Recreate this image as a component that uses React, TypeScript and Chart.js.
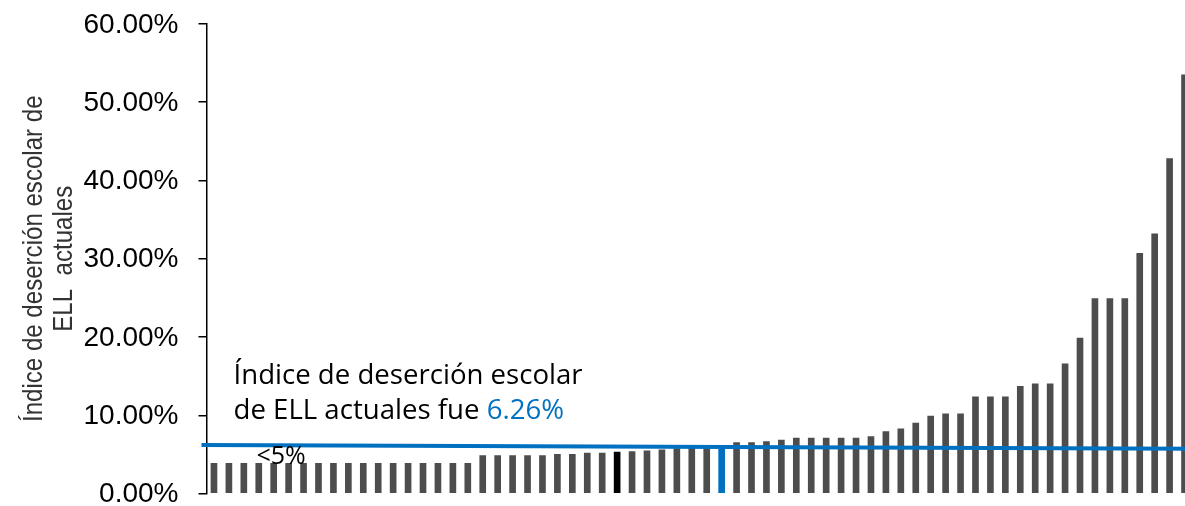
import React, { useEffect, useRef } from "react";
import { Chart, registerables } from "chart.js";

Chart.register(...registerables);

// Dropout rate (%) of current ELL per school, sorted ascending
const dropoutRates: number[] = [
  3.85, 3.85, 3.85, 3.85, 3.85, 3.85, 3.85, 3.85, 3.85, 3.85, 3.85, 3.85, 3.85, 3.85, 3.85, 3.85, 3.85, 3.85,
  4.84, 4.84, 4.84, 4.84, 4.84,
  5.02, 5.02, 5.15, 5.15, 5.28, 5.35, 5.44, 5.57, 5.74, 5.78, 5.78, 6.1,
  6.51, 6.51, 6.62, 6.82, 7.07, 7.07, 7.07, 7.07, 7.09, 7.28, 7.92, 8.26, 8.99, 9.88,
  10.18, 10.18, 12.36, 12.36, 12.36, 13.68, 14.02, 14.02, 16.58, 19.87,
  24.9, 24.9, 24.9, 30.7, 33.2, 42.8, 53.5,
];
const schoolLabels: string[] = dropoutRates.map((_, i) => `Escuela ${i + 1}`);
const highlightBlackIndex = 27;
const highlightBlueIndex = 34;

const yTickValues: number[] = [0, 10, 20, 30, 40, 50, 60];
const yAxisTitle: string[] = ["Índice de deserción escolar de", "ELL  actuales"];
const averageLine = { start: 6.2, end: 5.72 };
const annotationLine1 = "Índice de deserción escolar";
const annotationLine2 = "de ELL actuales fue ";
const annotationValue = "6.26%";
const smallLabel = "<5%";

const GREY = "#4d4d4d";
const BLUE = "#0070C0";

const overlayPlugin = {
  id: "overlay",
  afterDatasetsDraw(chart: any) {
    const { ctx, chartArea, scales } = chart;
    const y = scales.y;
    const x = scales.x;
    ctx.save();
    // average line
    ctx.strokeStyle = BLUE;
    ctx.lineWidth = 4;
    ctx.beginPath();
    ctx.moveTo(chartArea.left - 5, y.getPixelForValue(averageLine.start));
    ctx.lineTo(chartArea.right, y.getPixelForValue(averageLine.end));
    ctx.stroke();

    // annotation text
    ctx.font = "27.6px 'Open Sans', sans-serif";
    ctx.textBaseline = "alphabetic";
    ctx.textAlign = "left";
    ctx.fillStyle = "#000";
    const tx = chartArea.left + 27;
    ctx.fillText(annotationLine1, tx, y.getPixelForValue(14));
    const l2y = y.getPixelForValue(9.55);
    ctx.fillText(annotationLine2, tx, l2y);
    const w = ctx.measureText(annotationLine2).width;
    ctx.fillStyle = BLUE;
    ctx.fillText(annotationValue, tx + w, l2y);

    // <5% label
    ctx.font = "25px 'Open Sans', sans-serif";
    ctx.fillStyle = "#000";
    ctx.textAlign = "center";
    const cx = (x.getPixelForValue(4) + x.getPixelForValue(5)) / 2;
    ctx.fillText(smallLabel, cx, y.getPixelForValue(3.75));

    // y-axis title (condensed, two lines, rotated)
    const cy = (chartArea.top + chartArea.bottom) / 2;
    ctx.font = "28px 'Liberation Sans', Arial, sans-serif";
    ctx.fillStyle = "#333333";
    ctx.textAlign = "center";
    ctx.textBaseline = "middle";
    yAxisTitle.forEach((line, i) => {
      ctx.save();
      ctx.translate(34 + i * 30, cy);
      ctx.rotate(-Math.PI / 2);
      ctx.scale(0.86, 1);
      ctx.fillText(line, 0, 0);
      ctx.restore();
    });
    ctx.restore();
  },
};

export default function App() {
  const ref = useRef<HTMLCanvasElement | null>(null);

  useEffect(() => {
    document.body.style.margin = "0";
    document.body.style.overflow = "hidden";
    document.documentElement.style.overflow = "hidden";
    const canvas = ref.current;
    if (!canvas) return;
    const chart = new Chart(canvas, {
      type: "bar",
      data: {
        labels: schoolLabels,
        datasets: [
          {
            data: dropoutRates,
            backgroundColor: dropoutRates.map((_, i) =>
              i === highlightBlackIndex ? "#000000" : i === highlightBlueIndex ? BLUE : GREY
            ),
            barThickness: 6,
            borderWidth: 0,
          },
        ],
      },
      options: {
        responsive: false,
        animation: false,
        layout: { padding: { left: 0, right: 8, top: 24, bottom: 12.5 } },
        plugins: { legend: { display: false }, tooltip: { enabled: false } },
        scales: {
          x: { display: false, offset: true },
          y: {
            min: 0,
            max: 60,
            afterBuildTicks: (scale: any) => {
              scale.ticks = yTickValues.map((v) => ({ value: v }));
            },
            afterFit: (scale: any) => {
              scale.width = 206.5;
              scale.paddingTop = 0;
              scale.paddingBottom = 0;
            },
            ticks: {
              color: "#000",
              font: { family: "'Liberation Sans', Arial, sans-serif", size: 28, lineHeight: 0.9 },
              padding: 20,
              labelOffset: 1,
              callback: (v: any) => Number(v).toFixed(2) + "%",
            },
            grid: {
              display: true,
              drawOnChartArea: false,
              drawTicks: true,
              tickLength: 8,
              color: "#000",
              lineWidth: 1.5,
            },
            border: { display: true, color: "#000", width: 1.5 },
            title: { display: false },
          },
        },
      },
      plugins: [overlayPlugin],
    });
    return () => chart.destroy();
  }, []);

  return <canvas ref={ref} width={1200} height={506} style={{ display: "block" }} />;
}
